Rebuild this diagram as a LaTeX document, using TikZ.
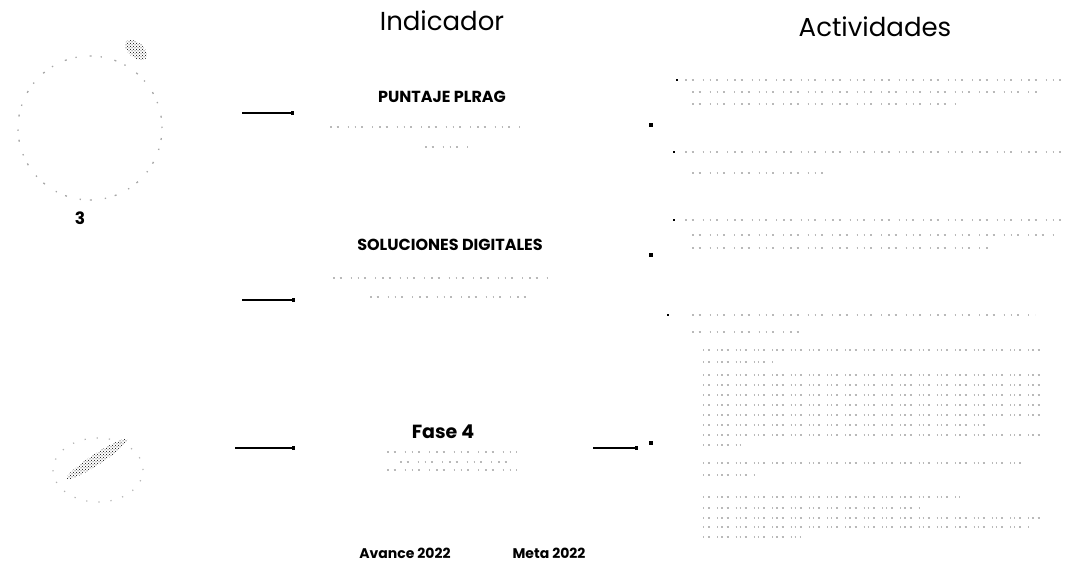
\documentclass[tikz,border=0pt]{standalone}
\usepackage{fontspec}
\setmainfont{Poppins}
\usetikzlibrary{arrows.meta,patterns,shapes.geometric}
\tikzset{
  titletext/.style={font=\fontsize{26}{28}\selectfont, inner sep=0pt},
  headtext/.style={font=\bfseries\fontsize{16}{18}\selectfont, inner sep=0pt},
  foottext/.style={font=\bfseries\fontsize{14}{16}\selectfont, inner sep=0pt},
  ghost/.style={gray!55, line width=1.5pt, dash pattern=on 1.5pt off 5pt on 2pt off 9pt on 1pt off 6pt},
  ghostsub/.style={gray!55, line width=1.3pt, dash pattern=on 1.3pt off 4pt on 2pt off 7pt on 1pt off 3pt},
  conn/.style={line width=1.4pt, -{Square[length=3pt,width=4pt]}},
  dotmark/.style={fill=black, minimum size=3.5pt, inner sep=0pt, rectangle},
  speck/.style={ellipse, pattern=crosshatch dots, pattern color=black, inner sep=0pt}
}
\begin{document}
\begin{tikzpicture}[x=1pt,y=-1pt]
\useasboundingbox[fill=white] (0,0) rectangle (1068,564);

% left decorations
\node[circle, draw=gray!70, line width=1.3pt, dash pattern=on 1.3pt off 9pt on 2pt off 13pt, minimum size=144pt, inner sep=0pt] (c1) at (90,128) {};
\node[speck, minimum width=26pt, minimum height=15pt, rotate=-40] (blob1) at (136,50) {};
\node[font=\bfseries\fontsize{17}{19}\selectfont, inner sep=0pt] (three) at (80,218) {3};
\node[speck, minimum width=72pt, minimum height=11pt, rotate=33] (blob2) at (97,459) {};
\node[ellipse, draw=gray!60, line width=1.2pt, dash pattern=on 1.2pt off 11pt, minimum width=90pt, minimum height=64pt, inner sep=0pt] (c2) at (98,470) {};

% titles
\node[titletext] (ind) at (442,21) {Indicador};
\node[titletext] (act) at (875,27) {Actividades};

% indicators
\node[headtext] (i1) at (442,97) {PUNTAJE PLRAG};
\draw[ghost] (330,127) -- (525,127);
\draw[ghost] (425,147) -- (470,147);

\node[headtext] (i2) at (450,245) {SOLUCIONES DIGITALES};
\draw[ghost] (333,278) -- (548,278);
\draw[ghost] (370,297) -- (527,297);

\node[headtext, font=\bfseries\fontsize{19}{21}\selectfont] (i3) at (443,432) {Fase 4};
\draw[ghost] (387,452) -- (517,452);
\draw[ghost] (400,462) -- (510,462);
\draw[ghost] (387,470) -- (517,470);

\node[foottext] (av) at (405,553) {Avance 2022};
\node[foottext] (meta) at (549,553) {Meta 2022};

% connectors
\coordinate (a1s) at (242,113); \coordinate (a1e) at (294,113);
\coordinate (a2s) at (242,300); \coordinate (a2e) at (295,300);
\coordinate (a3s) at (235,448); \coordinate (a3e) at (295,448);
\coordinate (a4s) at (593,448); \coordinate (a4e) at (638,448);
\draw[conn] (a1s) -- (a1e);
\draw[conn] (a2s) -- (a2e);
\draw[conn] (a3s) -- (a3e);
\draw[conn] (a4s) -- (a4e);

% activity markers
\node[dotmark] (m1) at (651,125) {};
\node[dotmark] (m2) at (651,255) {};
\node[dotmark] (m3) at (651,443) {};

% activities (illegible text rows)
\node[dotmark, minimum size=2.5pt] (b1) at (677,80) {};
\draw[ghost] (685,80) -- (1065,80);
\draw[ghost] (692,92) -- (1040,92);
\draw[ghost] (692,104) -- (957,104);

\node[dotmark, minimum size=2.5pt] (b2) at (674,152) {};
\draw[ghost] (685,152) -- (1063,152);
\draw[ghost] (692,173) -- (825,173);

\node[dotmark, minimum size=2pt] (b3) at (674,220) {};
\draw[ghost] (685,220) -- (1063,220);
\draw[ghost] (692,235) -- (1055,235);
\draw[ghost] (692,248) -- (990,248);

\node[dotmark, minimum size=2.5pt] (b4) at (668,315) {};
\draw[ghost] (692,315) -- (1035,315);
\draw[ghost] (692,332) -- (800,332);

\foreach \yy/\xe in {350/1045, 362/775, 375/1045, 385/1045, 395/1045, 405/1045, 415/1045, 425/985, 435/1045, 445/740, 463/1025, 475/755, 497/960, 508/920, 518/1045, 527/1030, 537/800}
  \draw[ghostsub] (703,\yy) -- (\xe,\yy);
\end{tikzpicture}
\end{document}
